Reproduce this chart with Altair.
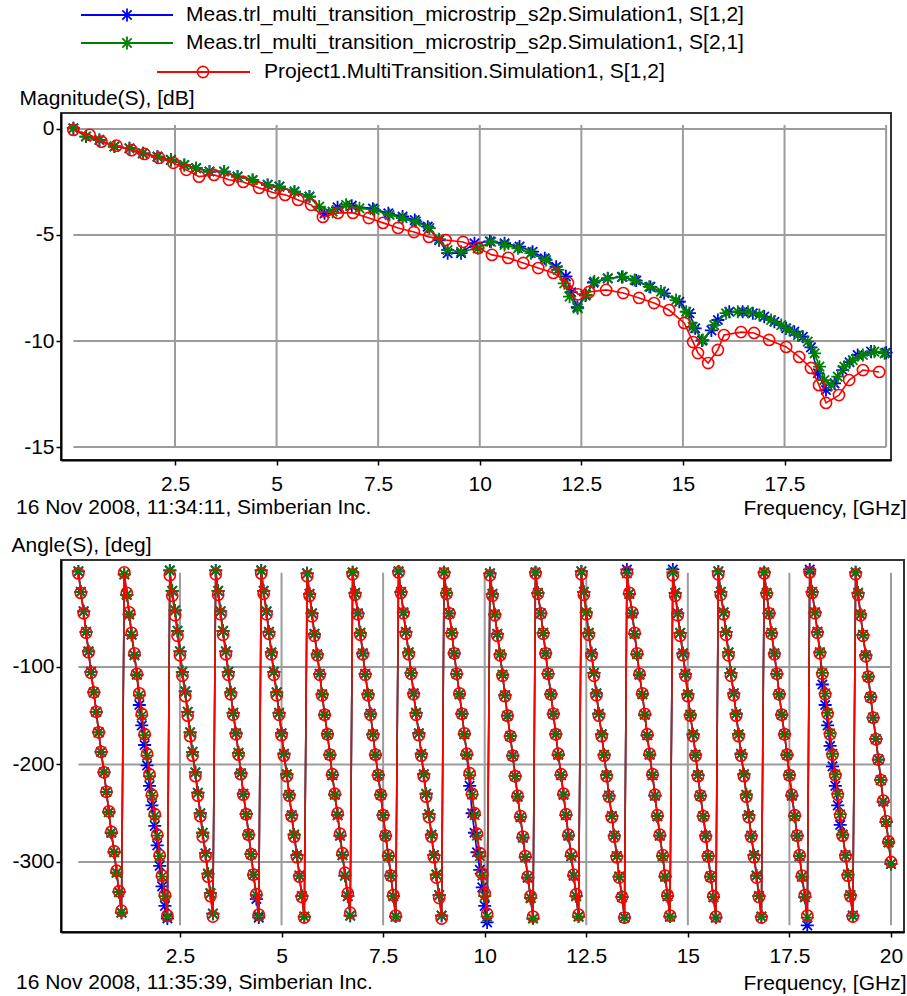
import altair as alt
import pandas as pd

FONT = "Liberation Sans"
FS = 21

SERIES = [
    "Meas.trl_multi_transition_microstrip_s2p.Simulation1, S[1,2]",
    "Meas.trl_multi_transition_microstrip_s2p.Simulation1, S[2,1]",
    "Project1.MultiTransition.Simulation1, S[1,2]",
]
COLORS = ["#0000ff", "#008000", "#ff0000"]
ASTER = "M0,-1L0,1M-1,0L1,0M-0.72,-0.72L0.72,0.72M-0.72,0.72L0.72,-0.72"
SHAPES = [ASTER, ASTER, "circle"]
SIZES = [170, 170, 125]
MARK_SW = [1.8, 1.8, 1.6]

FOOT_TOP = "16 Nov 2008, 11:34:11, Simberian Inc."
FOOT_BOT = "16 Nov 2008, 11:35:39, Simberian Inc."

# ---------------- Magnitude data (GHz, dB) ----------------
MAG_F_BLUE = [0.00, 0.31, 0.64, 1.01, 1.38, 1.71, 2.07, 2.40, 2.73, 3.02, 3.35, 3.71, 4.04, 4.41, 4.78, 5.07,
              5.44, 5.81, 6.18, 6.50, 6.85, 7.37, 7.75, 8.10, 8.40, 8.72, 9.00, 9.21, 9.54, 9.87, 10.25, 10.61,
              10.98, 11.30, 11.60, 11.88, 12.12, 12.25, 12.40, 12.60, 12.80, 13.15, 13.50, 13.85, 14.20, 14.54,
              14.91, 15.16, 15.30, 15.47, 15.70, 15.86, 16.14, 16.47, 16.72, 17.00, 17.25, 17.54, 17.74, 17.95,
              18.15, 18.32, 18.52, 18.73, 18.93, 19.10, 19.30, 19.63, 20.00]
MAG_DB_BLUE = [0.03, -0.36, -0.52, -0.83, -0.91, -1.15, -1.31, -1.46, -1.70, -1.85, -2.01, -2.01, -2.25, -2.41,
               -2.64, -2.72, -2.96, -3.19, -3.98, -3.70, -3.62, -3.76, -3.98, -4.13, -4.30, -4.61, -5.25, -5.86,
               -5.86, -5.39, -5.30, -5.39, -5.55, -5.79, -6.10, -6.50, -6.95, -7.70, -8.40, -7.85, -7.25, -7.05,
               -6.98, -7.15, -7.45, -7.75, -8.15, -8.69, -9.40, -9.98, -9.50, -9.01, -8.62, -8.62, -8.69, -8.85,
               -9.09, -9.40, -9.56, -9.80, -10.30, -11.52, -12.31, -12.00, -11.37, -11.00, -10.66, -10.50, -10.55]

MAG_F_GREEN = [0.00, 0.31, 0.64, 1.01, 1.38, 1.71, 2.07, 2.40, 2.73, 3.02, 3.35, 3.71, 4.04, 4.41, 4.78, 5.07,
               5.44, 5.81, 6.05, 6.38, 6.71, 7.04, 7.41, 7.78, 8.10, 8.43, 8.76, 9.00, 9.21, 9.54, 9.95, 10.28,
               10.61, 10.94, 11.26, 11.63, 11.92, 12.08, 12.21, 12.41, 12.62, 12.82, 13.15, 13.52, 13.81, 14.17,
               14.46, 14.83, 15.08, 15.24, 15.49, 15.77, 16.06, 16.35, 16.60, 16.88, 17.17, 17.42, 17.62, 17.83,
               18.07, 18.24, 18.36, 18.48, 18.65, 18.81, 18.97, 19.18, 19.43, 19.71, 19.96]
MAG_DB_GREEN = [0.03, -0.36, -0.52, -0.83, -0.91, -1.15, -1.31, -1.46, -1.70, -1.85, -2.01, -2.01, -2.25, -2.41,
                -2.64, -2.72, -2.96, -3.19, -3.66, -3.90, -3.58, -3.74, -3.82, -4.06, -4.21, -4.37, -4.68, -5.20,
                -5.71, -5.79, -5.63, -5.32, -5.47, -5.63, -5.86, -6.18, -6.65, -7.28, -7.91, -8.46, -7.83, -7.20,
                -7.04, -6.97, -7.12, -7.44, -7.67, -8.07, -8.62, -9.33, -9.95, -9.25, -8.69, -8.62, -8.62, -8.77,
                -9.01, -9.25, -9.48, -9.72, -10.03, -10.58, -11.21, -11.84, -12.08, -11.68, -11.21, -10.90, -10.66,
                -10.50, -10.58]

MAG_F_RED = [0.00, 0.40, 0.69, 1.06, 1.43, 1.75, 2.11, 2.46, 2.78, 3.09, 3.46, 3.83, 4.18, 4.57, 4.91, 5.21,
             5.53, 5.85, 6.14, 6.51, 6.88, 7.27, 7.62, 7.99, 8.38, 8.75, 9.16, 9.59, 9.96, 10.30, 10.70, 11.07,
             11.44, 11.81, 12.17, 12.42, 12.69, 13.11, 13.53, 13.92, 14.29, 14.66, 15.03, 15.25, 15.37, 15.62,
             15.86, 16.01, 16.43, 16.75, 17.12, 17.54, 17.86, 18.15, 18.35, 18.52, 18.84, 19.09, 19.43, 19.83]
MAG_DB_RED = [-0.05, -0.28, -0.60, -0.79, -1.00, -1.18, -1.37, -1.60, -1.93, -2.25, -2.17, -2.40, -2.50, -2.78,
              -3.00, -3.11, -3.35, -3.58, -4.15, -3.96, -3.96, -4.20, -4.43, -4.67, -4.86, -5.09, -5.24, -5.33,
              -5.61, -5.94, -6.08, -6.32, -6.56, -6.79, -7.26, -7.80, -7.69, -7.59, -7.74, -7.97, -8.21, -8.54,
              -9.15, -10.05, -10.57, -11.04, -10.42, -9.72, -9.58, -9.62, -9.95, -10.28, -10.75, -11.27, -12.08,
              -12.92, -12.55, -11.84, -11.37, -11.46]

# ---------------- Angle data (GHz, deg) ----------------
PH_F = [
    0.0, 0.06, 0.13, 0.19, 0.25, 0.31, 0.38, 0.44, 0.5, 0.56, 0.63, 0.69, 0.75, 0.81, 0.88, 0.94,
    1.0, 1.06, 1.13, 1.19, 1.25, 1.31, 1.38, 1.44, 1.5, 1.56, 1.63, 1.69, 1.75, 1.81, 1.88, 1.94,
    2.0, 2.06, 2.13, 2.19, 2.25, 2.31, 2.38, 2.44, 2.5, 2.56, 2.63, 2.69, 2.75, 2.81, 2.88, 2.94,
    3.0, 3.06, 3.13, 3.19, 3.25, 3.31, 3.38, 3.44, 3.5, 3.56, 3.63, 3.69, 3.75, 3.81, 3.88, 3.94,
    4.0, 4.06, 4.13, 4.19, 4.25, 4.31, 4.38, 4.44, 4.5, 4.56, 4.63, 4.69, 4.75, 4.81, 4.88, 4.94,
    5.0, 5.06, 5.13, 5.19, 5.25, 5.31, 5.38, 5.44, 5.5, 5.56, 5.63, 5.69, 5.75, 5.81, 5.88, 5.94,
    6.0, 6.06, 6.13, 6.19, 6.25, 6.31, 6.38, 6.44, 6.5, 6.56, 6.63, 6.69, 6.75, 6.81, 6.88, 6.94,
    7.0, 7.06, 7.13, 7.19, 7.25, 7.31, 7.38, 7.44, 7.5, 7.56, 7.63, 7.69, 7.75, 7.81, 7.88, 7.94,
    8.0, 8.06, 8.13, 8.19, 8.25, 8.31, 8.38, 8.44, 8.5, 8.56, 8.63, 8.69, 8.75, 8.81, 8.88, 8.94,
    9.0, 9.06, 9.13, 9.19, 9.25, 9.31, 9.38, 9.44, 9.5, 9.56, 9.63, 9.69, 9.75, 9.81, 9.88, 9.94,
    10.0, 10.06, 10.13, 10.19, 10.25, 10.31, 10.38, 10.44, 10.5, 10.56, 10.63, 10.69, 10.75, 10.81, 10.88, 10.94,
    11.0, 11.06, 11.13, 11.19, 11.25, 11.31, 11.38, 11.44, 11.5, 11.56, 11.63, 11.69, 11.75, 11.81, 11.88, 11.94,
    12.0, 12.06, 12.13, 12.19, 12.25, 12.31, 12.38, 12.44, 12.5, 12.56, 12.63, 12.69, 12.75, 12.81, 12.88, 12.94,
    13.0, 13.06, 13.13, 13.19, 13.25, 13.31, 13.38, 13.44, 13.5, 13.56, 13.63, 13.69, 13.75, 13.81, 13.88, 13.94,
    14.0, 14.06, 14.13, 14.19, 14.25, 14.31, 14.38, 14.44, 14.5, 14.56, 14.63, 14.69, 14.75, 14.81, 14.88, 14.94,
    15.0, 15.06, 15.13, 15.19, 15.25, 15.31, 15.38, 15.44, 15.5, 15.56, 15.63, 15.69, 15.75, 15.81, 15.88, 15.94,
    16.0, 16.06, 16.13, 16.19, 16.25, 16.31, 16.38, 16.44, 16.5, 16.56, 16.63, 16.69, 16.75, 16.81, 16.88, 16.94,
    17.0, 17.06, 17.13, 17.19, 17.25, 17.31, 17.38, 17.44, 17.5, 17.56, 17.63, 17.69, 17.75, 17.81, 17.88, 17.94,
    18.0, 18.06, 18.13, 18.19, 18.25, 18.31, 18.38, 18.44, 18.5, 18.56, 18.63, 18.69, 18.75, 18.81, 18.88, 18.94,
    19.0, 19.06, 19.13, 19.19, 19.25, 19.31, 19.38, 19.44, 19.5, 19.56, 19.63, 19.69, 19.75, 19.81, 19.88, 19.94,
    20.0,
]

PH_RED = [
    -4, -24, -45, -65, -85, -106, -126, -146, -167, -187, -208, -228, -248, -269, -289, -309, -330, -350,
    -3, -24, -44, -65, -86, -107, -127, -148, -169, -189, -210, -231, -251, -272, -293, -314, -334, -355,
    -6, -27, -47, -68, -88, -109, -130, -150, -171, -191, -212, -232, -253, -274, -294, -315, -335, -356,
    -5, -26, -46, -67, -87, -108, -128, -149, -169, -190, -210, -231, -251, -272, -292, -313, -333, -354,
    -4, -25, -46, -66, -87, -108, -129, -149, -170, -191, -212, -232, -253, -274, -295, -315, -336, -357,
    -7, -27, -48, -68, -88, -108, -129, -149, -169, -190, -210, -230, -250, -271, -291, -311, -332, -352,
    -5, -26, -46, -67, -87, -108, -129, -149, -170, -190, -211, -231, -252, -273, -293, -314, -334, -355,
    -3, -24, -45, -66, -87, -107, -128, -149, -170, -191, -212, -233, -254, -274, -295, -316, -337, -358,
    -4, -25, -45, -66, -86, -107, -127, -148, -168, -189, -209, -230, -250, -271, -291, -312, -332, -353,
    -6, -27, -47, -68, -88, -109, -130, -150, -171, -191, -212, -232, -253, -274, -294, -315, -335, -356,
    -4, -25, -45, -66, -86, -107, -128, -148, -169, -189, -210, -230, -251, -272, -292, -313, -333, -354,
    -5, -26, -46, -67, -88, -109, -129, -150, -171, -191, -212, -233, -254, -274, -295, -316, -336, -357,
    -3, -24, -44, -65, -86, -107, -127, -148, -169, -189, -210, -231, -252, -272, -293, -314, -334, -355,
    -6, -27, -47, -68, -88, -109, -130, -150, -171, -191, -212, -232, -253, -274, -294, -315, -335, -356,
    -5, -26, -46, -67, -88, -109, -129, -150, -171, -191, -212, -233, -254, -274, -295, -316, -336, -357,
    -4, -25, -45, -66, -87, -107, -128, -149, -169, -190, -211, -231, -252, -273, -293, -314, -334, -355,
    -3, -24, -45, -65, -86, -107, -128, -148, -169, -190, -211, -231, -252, -273, -294, -314, -335, -356,
    -5, -26, -47, -68, -89, -110, -131, -152, -174, -195, -216, -237, -258, -279, -300,
]

PH_GREEN = [
    -2, -23, -43, -64, -84, -105, -126, -146, -167, -187, -208, -228, -249, -270, -290, -311, -331, -352,
    -5, -26, -46, -67, -88, -108, -129, -150, -170, -191, -212, -232, -253, -273, -294, -315, -335, -356,
    -1, -22, -42, -63, -84, -105, -125, -146, -167, -187, -208, -229, -250, -270, -291, -312, -332, -353,
    -1, -22, -43, -63, -84, -105, -126, -147, -168, -188, -209, -230, -251, -272, -292, -313, -334, -355,
    -1, -22, -43, -64, -85, -105, -126, -147, -168, -189, -210, -231, -252, -272, -293, -314, -335, -356,
    -4, -25, -45, -66, -87, -107, -128, -149, -169, -190, -211, -231, -252, -273, -293, -314, -335, -355,
    -3, -24, -45, -65, -86, -107, -128, -148, -169, -190, -211, -231, -252, -273, -294, -314, -335, -356,
    -2, -23, -44, -64, -85, -106, -127, -147, -168, -189, -210, -230, -251, -272, -293, -313, -334, -355,
    -3, -24, -45, -65, -86, -107, -128, -148, -169, -190, -211, -231, -252, -273, -294, -314, -335, -356,
    -4, -25, -46, -66, -87, -108, -129, -150, -171, -191, -212, -233, -254, -275, -295, -316, -337, -358,
    -3, -24, -45, -65, -86, -107, -128, -148, -169, -190, -211, -231, -252, -273, -294, -314, -335, -356,
    -2, -23, -44, -65, -86, -106, -127, -148, -169, -190, -211, -232, -253, -273, -294, -315, -336, -357,
    -4, -25, -45, -66, -87, -108, -128, -149, -170, -190, -211, -232, -253, -273, -294, -315, -335, -356,
    -3, -24, -45, -65, -86, -107, -128, -149, -169, -190, -211, -232, -253, -273, -294, -315, -336, -357,
    -2, -23, -44, -64, -85, -106, -127, -148, -169, -189, -210, -231, -252, -273, -293, -314, -335, -356,
    -3, -24, -45, -65, -86, -107, -128, -149, -169, -190, -211, -232, -253, -273, -294, -315, -336, -357,
    -2, -23, -44, -64, -85, -106, -127, -147, -168, -189, -210, -230, -251, -272, -293, -313, -334, -355,
    -3, -24, -46, -67, -88, -110, -131, -152, -174, -195, -216, -238, -259, -280, -302,
]

PH_BLUE = [
    -2, -23, -43, -64, -84, -105, -126, -146, -167, -187, -208, -228, -249, -270, -290, -311, -331, -352,
    -5, -26, -46, -67, -88, -108, -139, -160, -180, -201, -222, -242, -263, -283, -304, -325, -345, -358,
    -1, -22, -42, -63, -84, -105, -125, -146, -167, -187, -208, -229, -250, -270, -291, -312, -332, -353,
    -1, -22, -43, -63, -84, -105, -126, -147, -168, -188, -209, -230, -251, -272, -292, -313, -338, -357,
    -1, -22, -43, -64, -85, -105, -126, -147, -168, -189, -210, -231, -252, -272, -293, -314, -335, -356,
    -4, -25, -45, -66, -87, -107, -128, -149, -169, -190, -211, -231, -252, -273, -293, -314, -335, -355,
    -3, -24, -45, -65, -86, -107, -128, -148, -169, -190, -211, -231, -252, -273, -294, -314, -335, -356,
    -2, -23, -44, -64, -85, -106, -127, -147, -168, -189, -210, -230, -251, -272, -293, -313, -334, -355,
    -3, -24, -45, -65, -86, -107, -128, -148, -169, -190, -222, -250, -270, -290, -308, -326, -345, -362,
    -4, -25, -46, -66, -87, -108, -129, -150, -171, -191, -212, -233, -254, -275, -295, -316, -337, -358,
    -3, -24, -45, -65, -86, -107, -128, -148, -169, -190, -211, -231, -252, -273, -294, -314, -335, -356,
    -2, -23, -44, -65, -86, -106, -127, -148, -169, -190, -211, -232, -253, -273, -294, -315, -336, -357,
    0, -25, -45, -66, -87, -108, -128, -149, -170, -190, -211, -232, -253, -273, -294, -315, -335, -356,
    0, -24, -45, -65, -86, -107, -128, -149, -169, -190, -211, -232, -253, -273, -294, -315, -336, -357,
    -2, -23, -44, -64, -85, -106, -127, -148, -169, -189, -210, -231, -252, -273, -293, -314, -335, -356,
    -3, -24, -45, -65, -86, -107, -128, -149, -169, -190, -211, -232, -253, -273, -294, -315, -336, -365,
    0, -23, -44, -64, -85, -118, -139, -160, -181, -202, -222, -242, -262, -272, -293, -313, -334, -355,
    -3, -24, -46, -67, -88, -110, -131, -152, -174, -195, -216, -238, -259, -280, -302,
]

TOP_XTICKS = [2.5, 5, 7.5, 10, 12.5, 15, 17.5]
TOP_YTICKS = [0, -5, -10, -15]
BOT_XTICKS = [2.5, 5, 7.5, 10, 12.5, 15, 17.5, 20]
BOT_YTICKS = [-100, -200, -300]
VGRID = [2.5, 5, 7.5, 10, 12.5, 15, 17.5, 20]

GRID = "#9c9c9c"

# legend layout (pixels relative to the magnitude plot area)
LEG = [  # rule x1, rule x2, marker x, text x, row y
    (20, 112, 66, 125, -98),
    (20, 112, 66, 125, -70),
    (96, 189, 142, 203, -41),
]


def axis_common(**kw):
    base = dict(labelFont=FONT, labelFontSize=FS, labelColor="black", titleFont=FONT,
                titleFontSize=FS, titleFontWeight="normal", titleColor="black",
                domainColor="black", domainWidth=2, tickColor="black", tickWidth=1.5,
                tickSize=5, grid=False, labelFlush=False, labelOverlap=False,
                labelExpr="'' + datum.value")
    base.update(kw)
    return alt.Axis(**base)


def build_panel(xs, ys, xaxis, yaxis, xticks_grid, ygrid, gy1, gy2, series, width, height, foot, foot_y,
                legend=False):
    X = alt.X("f:Q", scale=xs, axis=xaxis)
    Y = alt.Y("v:Q", scale=ys, axis=yaxis)
    layers = []
    layers.append(alt.Chart(pd.DataFrame({"f": xticks_grid})).mark_rule(color=GRID, strokeWidth=2).encode(
        x=X, y=alt.YDatum(gy1), y2=alt.Y2Datum(gy2)))
    layers.append(alt.Chart(pd.DataFrame({"v": ygrid})).mark_rule(color=GRID, strokeWidth=2).encode(
        y=Y, x=alt.XDatum(0), x2=alt.X2Datum(20)))
    for (fs, vs), col, shp, sz, sw in zip(series, COLORS, SHAPES, SIZES, MARK_SW):
        df = pd.DataFrame({"f": fs, "v": vs})
        layers.append(alt.Chart(df).mark_line(color=col, strokeWidth=1.6).encode(x=X, y=Y))
        layers.append(alt.Chart(df).mark_point(shape=shp, filled=False, color=col, size=sz, strokeWidth=sw,
                                               opacity=1).encode(x=X, y=Y))
    if legend:
        for name, col, shp, sz, sw, (x1, x2, xm, xt, yr) in zip(SERIES, COLORS, SHAPES, SIZES, MARK_SW, LEG):
            ldf = pd.DataFrame({"s": [name]})
            layers.append(alt.Chart(ldf).mark_rule(color=col, strokeWidth=2).encode(
                x=alt.value(x1), x2=alt.value(x2), y=alt.value(yr)))
            layers.append(alt.Chart(ldf).mark_point(shape=shp, filled=False, color=col, size=sz,
                                                    strokeWidth=sw, opacity=1).encode(
                x=alt.value(xm), y=alt.value(yr)))
            layers.append(alt.Chart(ldf).mark_text(align="left", baseline="middle", font=FONT, fontSize=FS,
                                                   color="black").encode(
                x=alt.value(xt), y=alt.value(yr), text="s:N"))
    fdf = pd.DataFrame({"t": [foot]})
    layers.append(alt.Chart(fdf).mark_text(align="left", baseline="middle", font=FONT, fontSize=FS,
                                           color="black").encode(
        x=alt.value(-45), y=alt.value(foot_y), text="t:N"))
    return alt.layer(*layers).properties(width=width, height=height)


top = build_panel(
    xs=alt.Scale(domain=[-0.305, 20.12], nice=False, zero=False),
    ys=alt.Scale(domain=[-15.61, 0.75], nice=False, zero=False),
    xaxis=axis_common(values=TOP_XTICKS, title="Frequency, [GHz]", titleX=845, titleY=48,
                      titleAlign="right", titleBaseline="middle", labelPadding=8),
    yaxis=axis_common(values=TOP_YTICKS, title="Magnitude(S), [dB]", titleAngle=0, titleX=-42, titleY=-15,
                      titleAlign="left", titleBaseline="middle", labelPadding=2),
    xticks_grid=VGRID, ygrid=TOP_YTICKS, gy1=0.19, gy2=-15,
    series=[(MAG_F_BLUE, MAG_DB_BLUE), (MAG_F_GREEN, MAG_DB_GREEN), (MAG_F_RED, MAG_DB_RED)],
    width=830, height=347, foot=FOOT_TOP, foot_y=395, legend=True,
)

bottom = build_panel(
    xs=alt.Scale(domain=[-0.428, 20.32], nice=False, zero=False),
    ys=alt.Scale(domain=[-371.8, 9.7], nice=False, zero=False),
    xaxis=axis_common(values=BOT_XTICKS, title="Frequency, [GHz]", titleX=845, titleY=51,
                      titleAlign="right", titleBaseline="middle", labelPadding=8),
    yaxis=axis_common(values=BOT_YTICKS, title="Angle(S), [deg]", titleAngle=0, titleX=-50, titleY=-15,
                      titleAlign="left", titleBaseline="middle", labelPadding=2),
    xticks_grid=VGRID, ygrid=BOT_YTICKS, gy1=-3.5, gy2=-365,
    series=[(PH_F, PH_BLUE), (PH_F, PH_GREEN), (PH_F, PH_RED)],
    width=843, height=372, foot=FOOT_BOT, foot_y=423,
)

chart = alt.vconcat(top, bottom, spacing=100, bounds="flush").properties(
    padding={"left": 10, "top": 3, "right": 0, "bottom": 0},
    background="white",
).configure(font=FONT).configure_view(stroke="#333333", strokeWidth=2)

chart.save("out.html", embed_options={"renderer": "svg", "actions": False})
